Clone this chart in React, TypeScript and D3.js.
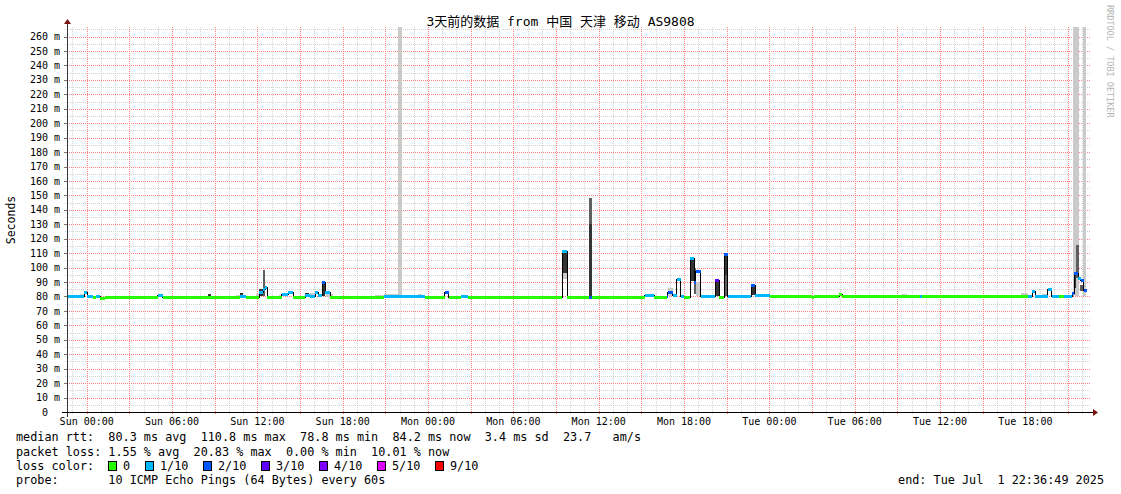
import React from 'react';
import * as d3 from 'd3';

// ---------- data ----------
const TITLE = '3天前的数据 from 中国 天津 移动 AS9808';
const Y_LABEL = 'Seconds';
const WATERMARK = 'RRDTOOL / TOBI OETIKER';
const START = new Date(2025, 5, 28, 22, 36, 49);
const END = new Date(2025, 6, 1, 22, 36, 49);
const SUN0 = new Date(2025, 5, 29, 0, 0, 0); // reference for hour offsets
const DATA_END_H = 70.33;
const Y_MAX = 266.6;

// [hours since Sun 00:00, median rtt (ms), lost pings of 10]
const MEDIAN_STEPS: [number, number, number][] = [
  [-1.39, 80.0, 1], [-0.19, 82.5, 1], [0.02, 80.0, 1], [0.44, 79.3, 0], [0.65, 79.8, 1],
  [0.94, 78.9, 0], [1.29, 79.3, 0], [5.01, 80.5, 1], [5.36, 79.3, 0], [10.78, 80.0, 1],
  [11.21, 79.3, 0], [12.13, 83.0, 1], [12.41, 84.5, 1], [12.55, 86.0, 1], [12.70, 79.3, 0],
  [13.73, 81.5, 1], [14.16, 83.0, 1], [14.51, 79.3, 0], [15.35, 81.0, 1], [15.71, 80.2, 1],
  [16.06, 83.0, 1], [16.27, 81.0, 1], [16.55, 90.0, 2], [16.76, 83.0, 1], [17.11, 79.3, 0],
  [20.90, 80.3, 1], [23.80, 79.0, 0], [25.19, 82.5, 2], [25.47, 79.0, 0], [26.30, 80.3, 1],
  [26.80, 79.3, 0], [33.42, 110.8, 1], [33.77, 79.3, 0], [35.32, 79.3, 2], [35.53, 79.3, 0],
  [39.25, 80.5, 1], [39.90, 79.3, 0], [40.80, 80.3, 2], [40.87, 83.0, 2], [41.22, 80.5, 1],
  [41.50, 92.0, 1], [41.78, 80.3, 1], [42.00, 79.3, 0], [42.42, 106.0, 1], [42.70, 90.0, 2],
  [42.84, 97.0, 2], [43.19, 80.3, 1], [44.18, 91.0, 3], [44.46, 79.5, 0], [44.81, 109.0, 2],
  [45.09, 80.3, 1], [46.71, 87.5, 2], [46.99, 80.5, 1], [48.04, 80.0, 0], [51.0, 79.3, 0],
  [51.14, 80.0, 0], [52.90, 81.5, 0], [53.11, 80.0, 0], [58.59, 80.3, 1], [58.74, 80.0, 0],
  [66.19, 80.3, 1], [66.47, 83.5, 1], [66.68, 80.3, 1], [67.59, 84.5, 1], [67.87, 80.3, 1],
  [68.36, 80.0, 0], [68.71, 80.3, 1], [69.28, 82.0, 2], [69.42, 96.0, 2], [69.70, 92.5, 1],
  [69.91, 91.4, 2], [70.12, 84.2, 2],
];

// smoke bands: [from h, to h, low ms, high ms]
const SMOKE_LIGHT: [number, number, number, number][] = [
  [-0.47, -0.19, 80, 81.5], [2.9, 3.4, 79.3, 80.6], [6.9, 7.3, 79.3, 80.6], [10.5, 10.78, 79.3, 80.8],
  [11.9, 12.13, 80, 82], [13.5, 13.73, 79.3, 81.2], [15.71, 16.06, 80.2, 82.5], [16.82, 17.3, 79.3, 81.5],
  [20.3, 20.9, 79.3, 80.8], [20.9, 21.89, 80.3, 81.5], [21.89, 22.17, 80.3, 270], [22.17, 22.6, 80.3, 81.2],
  [23.3, 23.6, 80.3, 81.5], [29.5, 29.9, 79.3, 80.5], [33.42, 33.77, 92, 112], [34.1, 34.5, 79.3, 80.6],
  [37.4, 37.8, 79.3, 80.6], [40.87, 41.22, 80.3, 86], [42.84, 43.19, 80.3, 90], [45.5, 45.9, 80.3, 81.2],
  [49.5, 49.9, 80, 81], [52.5, 52.8, 80, 81], [55.0, 55.4, 80, 81], [57.3, 57.7, 80, 81.5],
  [62.8, 63.3, 80, 81.2], [65.7, 66.19, 80, 82.5], [67.2, 67.5, 80.3, 81.8], [69.35, 69.77, 80, 270],
  [70.05, 70.26, 80, 270],
];
const SMOKE_MID: [number, number, number, number][] = [
  [12.41, 12.55, 80, 98.6], [35.32, 35.53, 130, 148], [42.70, 42.84, 82, 100],
  [44.81, 45.09, 80, 95], [69.56, 69.77, 93, 115.6], [69.84, 70.05, 84, 88],
];
const SMOKE_DARK: [number, number, number, number][] = [
  [8.53, 8.74, 79.3, 82], [10.78, 11.0, 80, 82.5], [12.13, 12.41, 80, 85], [13.73, 13.94, 80, 82.5],
  [15.35, 15.6, 79.5, 82.5], [16.55, 16.76, 80, 90], [33.42, 33.77, 96, 110.8], [35.32, 35.53, 80, 130],
  [42.42, 42.70, 91, 106], [44.18, 44.46, 80, 91], [44.81, 45.09, 95, 109], [46.71, 46.99, 81, 87.5],
  [69.42, 69.56, 86, 96],
];

const LOSS_LABELS = ['0', '1/10', '2/10', '3/10', '4/10', '5/10', '9/10'];
const LOSS_COLORS = ['#26ff00', '#00b8ff', '#0059ff', '#5e00ff', '#7e00ff', '#dd00ff', '#ff0000'];
const LEGEND_MEDIAN = 'median rtt:  80.3 ms avg  110.8 ms max  78.8 ms min  84.2 ms now  3.4 ms sd  23.7   am/s';
const LEGEND_LOSS = 'packet loss: 1.55 % avg  20.83 % max  0.00 % min  10.01 % now';
const LEGEND_COLOR = 'loss color:';
const LEGEND_PROBE = 'probe:       10 ICMP Echo Pings (64 Bytes) every 60s';
const LEGEND_END = 'end: Tue Jul  1 22:36:49 2025';

// ---------- layout ----------
const W = 1121, H = 494;
const PL = 67, PR = 1091, PT = 27, PB = 412;
const MONO = "'DejaVu Sans Mono', monospace";
const PRE = { whiteSpace: 'pre' as const };

const hToDate = (h: number) => new Date(SUN0.getTime() + h * 3600e3);
const lossColor = (n: number) => (n >= 9 ? LOSS_COLORS[6] : n >= 5 ? LOSS_COLORS[5] : LOSS_COLORS[n]);

export default function App() {
  const x = d3.scaleTime().domain([START, END]).range([PL, PR]);
  const y = d3.scaleLinear().domain([0, Y_MAX]).range([PB, PT]);
  const px = (v: number) => Math.round(v) + 0.5;

  const majorX = d3.timeHour.every(3)!.range(START, END);
  const minorX = d3.timeHour.range(START, END).filter((d) => d.getHours() % 3 !== 0);
  const labelX = d3.timeHour.every(6)!.range(START, END);
  const fmt = d3.timeFormat('%a %H:%M');

  const yMajor = y.ticks(27).filter((v) => v % 10 === 0 && v <= Y_MAX);
  const yMinor = d3.range(5, Y_MAX, 10);

  const pts = MEDIAN_STEPS.map(([h, m]) => ({ t: hToDate(h), m }));
  pts.push({ t: hToDate(DATA_END_H), m: MEDIAN_STEPS[MEDIAN_STEPS.length - 1][1] });
  const stepLine = d3.line<{ t: Date; m: number }>()
    .x((d) => x(d.t))
    .y((d) => y(d.m))
    .curve(d3.curveStepAfter);

  const smoke = (arr: [number, number, number, number][], fill: string, key: string) =>
    arr.map(([a, b, lo, hi], i) => {
      const x0 = Math.round(x(hToDate(a)));
      const x1 = Math.round(x(hToDate(b)));
      const y0 = Math.round(y(Math.min(hi, Y_MAX)));
      const y1 = Math.round(y(lo));
      return <rect key={key + i} x={x0} y={y0} width={Math.max(1, x1 - x0)} height={Math.max(1, y1 - y0)} fill={fill} />;
    });

  const boxX = [108, 145, 203, 261, 319, 377, 435];

  return (
    <svg width={W} height={H} style={{ display: 'block', background: '#fff' }}>
      <style>{`body{margin:0}`}</style>
      <rect x={0} y={0} width={W} height={H} fill="#ffffff" />
      {/* grid */}
      <g shapeRendering="crispEdges">
        {minorX.map((d, i) => (
          <line key={'mx' + i} x1={px(x(d))} x2={px(x(d))} y1={PT} y2={PB + 2} stroke="#d2d2d2" strokeDasharray="1 1" />
        ))}
        {yMinor.map((v, i) => (
          <line key={'my' + i} x1={PL - 2} x2={PR} y1={px(y(v))} y2={px(y(v))} stroke="#d2d2d2" strokeDasharray="1 1" />
        ))}
        {majorX.map((d, i) => (
          <line key={'Mx' + i} x1={px(x(d))} x2={px(x(d))} y1={PT} y2={PB + 3} stroke="#ff8080" strokeDasharray="1 1" />
        ))}
        {yMajor.filter((v) => v > 0).map((v, i) => (
          <line key={'My' + i} x1={PL} x2={PR} y1={px(y(v))} y2={px(y(v))} stroke="#ff8080" strokeDasharray="1 1" />
        ))}
        {yMajor.map((v, i) => (
          <line key={'ty' + i} x1={PL - 3} x2={PL} y1={px(y(v))} y2={px(y(v))} stroke="#777" />
        ))}
      </g>
      {/* smoke */}
      <g shapeRendering="crispEdges">
        {smoke(SMOKE_LIGHT, '#cacaca', 'sl')}
        {smoke(SMOKE_MID, '#5e5e5e', 'sm')}
        {smoke(SMOKE_DARK, '#343434', 'sd')}
      </g>
      {/* median */}
      <path d={stepLine(pts) || ''} fill="none" stroke="#000" strokeWidth={1} shapeRendering="crispEdges" />
      <g shapeRendering="crispEdges">
        {MEDIAN_STEPS.map(([h, m, l], i) => {
          const h2 = i + 1 < MEDIAN_STEPS.length ? MEDIAN_STEPS[i + 1][0] : DATA_END_H;
          return (
            <line key={'md' + i} x1={x(hToDate(h))} x2={x(hToDate(h2))} y1={y(m)} y2={y(m)}
              stroke={lossColor(l)} strokeWidth={3} />
          );
        })}
      </g>
      {/* axes */}
      <g shapeRendering="crispEdges">
        <line x1={PL + 0.5} x2={PL + 0.5} y1={PB + 5} y2={PT - 5} stroke="#333" />
        <line x1={PL - 5} x2={PR + 3} y1={PB + 0.5} y2={PB + 0.5} stroke="#000" />
      </g>
      <path d={`M${PL - 3},${PT - 3} L${PL + 4},${PT - 3} L${PL + 0.5},${PT - 8} Z`} fill="#7a1010" />
      <path d={`M${PR + 2},${PB - 3} L${PR + 2},${PB + 4} L${PR + 7},${PB + 0.5} Z`} fill="#7a1010" />
      {/* axis labels */}
      <g fontFamily={MONO} fontSize={10} fill="#000">
        {yMajor.map((v, i) => (
          <text key={'yl' + i} x={v === 0 ? 48 : 60} y={y(v) + 3.6} textAnchor="end">
            {v === 0 ? '0' : `${v} m`}
          </text>
        ))}
        {labelX.map((d, i) => (
          <text key={'xl' + i} x={x(d)} y={425} textAnchor="middle">{fmt(d)}</text>
        ))}
      </g>
      <text transform="translate(15,220) rotate(-90)" textAnchor="middle" fontFamily={MONO} fontSize={11.5}>{Y_LABEL}</text>
      <text transform="translate(1107,5) rotate(90)" fontFamily={MONO} fontSize={8.5} fill="#b4b4b4">{WATERMARK}</text>
      <text x={W / 2} y={26} textAnchor="middle" fontFamily="'DejaVu Sans Mono', 'Noto Sans CJK SC', monospace" fontSize={13}>{TITLE}</text>
      {/* legend */}
      <g fontFamily={MONO} fontSize={11.8} fill="#000">
        <text x={16} y={441} xmlSpace="preserve" style={PRE}>{LEGEND_MEDIAN}</text>
        <text x={16} y={456} xmlSpace="preserve" style={PRE}>{LEGEND_LOSS}</text>
        <text x={16} y={470} xmlSpace="preserve" style={PRE}>{LEGEND_COLOR}</text>
        {LOSS_LABELS.map((lab, i) => (
          <g key={'lg' + i}>
            <rect x={boxX[i] + 0.5} y={461.5} width={8} height={9} fill={LOSS_COLORS[i]} stroke="#000" shapeRendering="crispEdges" />
            <text x={boxX[i] + 15} y={470}>{lab}</text>
          </g>
        ))}
        <text x={16} y={484} xmlSpace="preserve" style={PRE}>{LEGEND_PROBE}</text>
        <text x={1104} y={484} textAnchor="end" xmlSpace="preserve" style={PRE}>{LEGEND_END}</text>
      </g>
    </svg>
  );
}
